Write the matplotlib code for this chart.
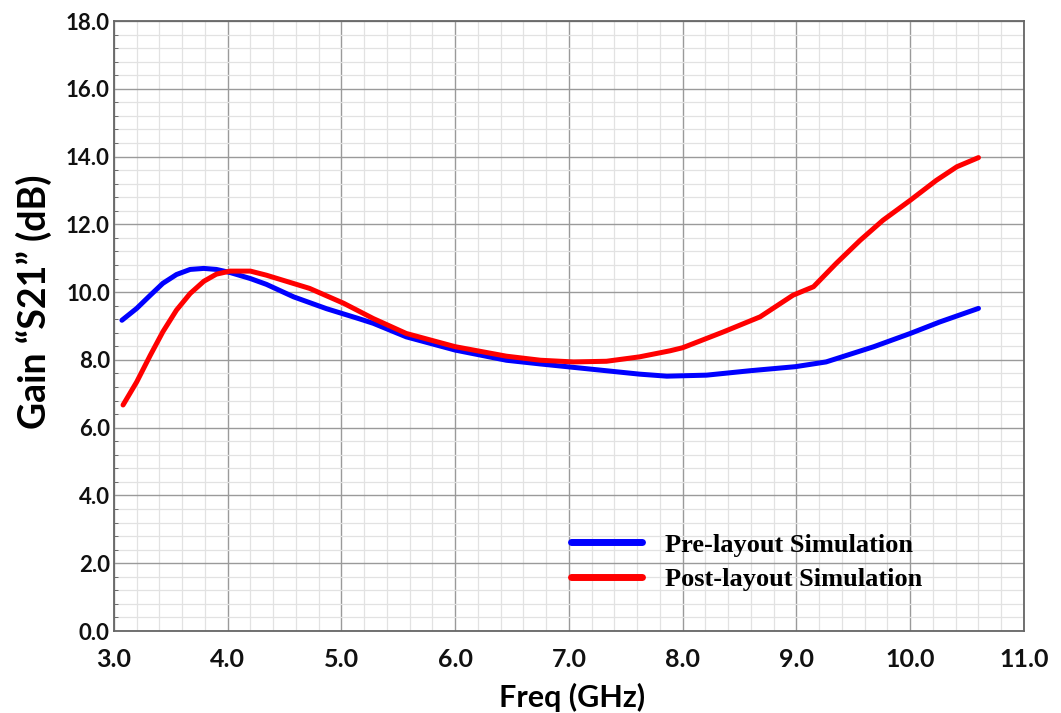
# Gain S21 vs frequency
import matplotlib
matplotlib.use('Agg')
import matplotlib.pyplot as plt
from matplotlib.ticker import MultipleLocator, FormatStrFormatter

# Freq (GHz) / Gain (dB)
x_pre = [3.07, 3.20, 3.32, 3.43, 3.55, 3.67, 3.79, 3.90, 4.02, 4.20, 4.34, 4.58, 4.87, 5.15,
         5.28, 5.57, 6.00, 6.45, 6.75, 7.04, 7.33, 7.62, 7.86, 8.21, 8.59, 8.99, 9.26, 9.68,
         10.00, 10.26, 10.60]
y_pre = [9.17, 9.52, 9.91, 10.26, 10.52, 10.67, 10.70, 10.67, 10.58, 10.40, 10.23, 9.86, 9.51, 9.22,
         9.08, 8.68, 8.29, 7.99, 7.88, 7.78, 7.68, 7.58, 7.52, 7.55, 7.68, 7.80, 7.94, 8.39,
         8.78, 9.12, 9.52]

x_post = [3.08, 3.20, 3.32, 3.43, 3.55, 3.67, 3.79, 3.90, 4.02, 4.20, 4.34, 4.72, 5.02, 5.28,
          5.57, 6.00, 6.45, 6.75, 7.04, 7.33, 7.62, 7.89, 8.00, 8.36, 8.68, 8.97, 9.15, 9.35,
          9.56, 9.76, 10.00, 10.23, 10.41, 10.60]
y_post = [6.67, 7.35, 8.14, 8.83, 9.47, 9.96, 10.32, 10.53, 10.62, 10.62, 10.50, 10.11, 9.67, 9.22,
          8.78, 8.39, 8.11, 7.99, 7.94, 7.96, 8.09, 8.27, 8.36, 8.83, 9.27, 9.91, 10.16, 10.85,
          11.53, 12.12, 12.71, 13.30, 13.70, 13.97]

labels = ['Pre-layout Simulation', 'Post-layout Simulation']

fig = plt.figure(figsize=(10.61, 7.13), dpi=100)
ax = fig.add_axes([0.1074, 0.115, 0.8577, 0.8555])

l1, = ax.plot(x_pre, y_pre, color='#0000ff', linewidth=3.6, solid_capstyle='round', solid_joinstyle='round')
l2, = ax.plot(x_post, y_post, color='#ff0000', linewidth=3.6, solid_capstyle='round', solid_joinstyle='round')

ax.set_xlim(3.0, 11.0)
ax.set_ylim(0.0, 18.0)
ax.xaxis.set_major_locator(MultipleLocator(1.0))
ax.xaxis.set_minor_locator(MultipleLocator(0.2))
ax.yaxis.set_major_locator(MultipleLocator(2.0))
ax.yaxis.set_minor_locator(MultipleLocator(0.4))
ax.xaxis.set_major_formatter(FormatStrFormatter('%.1f'))
ax.yaxis.set_major_formatter(FormatStrFormatter('%.1f'))

ax.grid(which='major', color='#9a9a9a', linewidth=1.0)
ax.grid(which='minor', color='#e2e2e2', linewidth=0.9)
ax.set_axisbelow(True)

for s in ax.spines.values():
    s.set_color('#666666')
    s.set_linewidth(1.3)

ax.tick_params(axis='x', which='both', length=0, pad=12, labelsize=18)
ax.tick_params(axis='y', which='major', length=0, pad=3, labelsize=16)
ax.tick_params(axis='y', which='minor', direction='in', length=3, color='#555555')
for t in ax.get_xticklabels() + ax.get_yticklabels():
    t.set_fontfamily('Lato')
    t.set_fontweight('bold')
    t.set_color('#111111')

ax.set_xlabel('Freq (GHz)', fontfamily='Lato', fontweight='bold', fontsize=22)
ax.xaxis.set_label_coords(0.503, -0.085)
ax.set_ylabel('Gain \u201cS21\u201d (dB)', fontfamily='Lato', fontweight='bold', fontsize=27)
ax.yaxis.set_label_coords(-0.068, 0.54)

leg = ax.legend(handles=[l1, l2], labels=labels, loc='center left',
                bbox_to_anchor=(0.488, 0.113), frameon=False, borderpad=0,
                handlelength=2.7, handletextpad=0.85, labelspacing=0.42,
                prop={'family': 'Liberation Serif', 'weight': 'bold', 'size': 19})
for ln in leg.get_lines():
    ln.set_linewidth(5)

fig.savefig('out.png', dpi=100)
